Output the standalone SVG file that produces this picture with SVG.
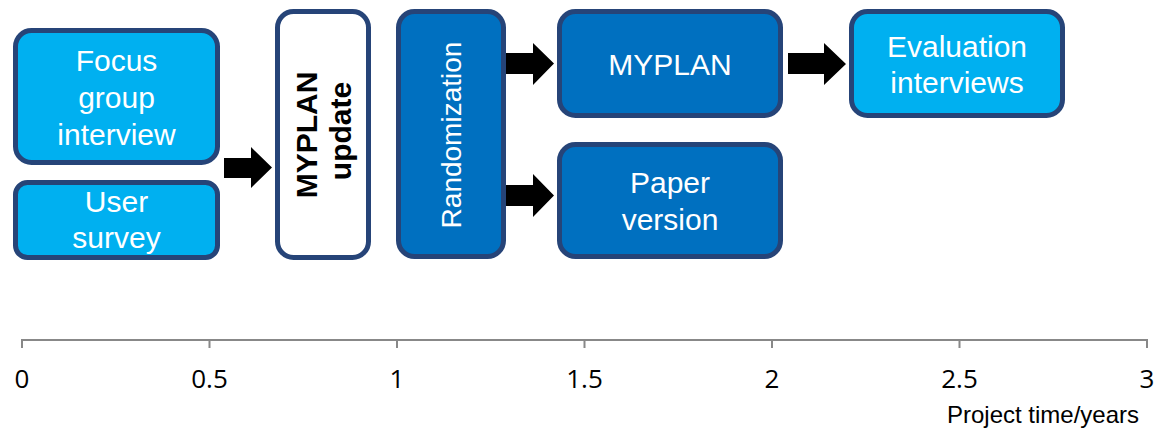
<svg xmlns="http://www.w3.org/2000/svg" width="1157" height="430" viewBox="0 0 1157 430">
  <style>
    .box { stroke: #264478; stroke-width: 5; }
    .light { fill: #00B0F0; }
    .mid { fill: #0070C0; }
    .white { fill: #FFFFFF; }
    .t { font-family: "Liberation Sans", Arial, sans-serif; font-size: 30px; fill: #FFFFFF; text-anchor: middle; }
    .tb { font-family: "Liberation Sans", Arial, sans-serif; font-size: 30px; font-weight: bold; fill: #000000; text-anchor: middle; }
    .arrow { fill: #000000; }
    .axis { stroke: #888888; stroke-width: 2; fill: none; }
    .num { font-family: "Open Sans", "Liberation Sans", sans-serif; font-size: 26px; fill: #000000; text-anchor: middle; }
    .cap { font-family: "Liberation Sans", Arial, sans-serif; font-size: 24px; fill: #000000; }
  </style>
  <rect width="1157" height="430" fill="#FFFFFF"/>

  <g id="focus-group">
    <rect class="box light" x="15.5" y="30.5" width="202" height="132" rx="16"/>
    <text class="t" x="116.5" y="71">Focus</text>
    <text class="t" x="116.5" y="108">group</text>
    <text class="t" x="116.5" y="145">interview</text>
  </g>
  <g id="user-survey">
    <rect class="box light" x="15.5" y="182.5" width="202" height="75" rx="12"/>
    <text class="t" x="116.5" y="212">User</text>
    <text class="t" x="116.5" y="248">survey</text>
  </g>
  <g id="myplan-update">
    <rect class="box white" x="277.5" y="11.5" width="91" height="246" rx="16"/>
    <text class="tb" transform="translate(317,135) rotate(-90)">MYPLAN</text>
    <text class="tb" transform="translate(351,131) rotate(-90)">update</text>
  </g>
  <g id="randomization">
    <rect class="box mid" x="398.5" y="11.5" width="105" height="245" rx="16"/>
    <text class="t" style="font-size:28px" transform="translate(461,135) rotate(-90)">Randomization</text>
  </g>
  <g id="myplan">
    <rect class="box mid" x="559.5" y="11.5" width="221" height="104" rx="16"/>
    <text class="t" x="670" y="75">MYPLAN</text>
  </g>
  <g id="paper-version">
    <rect class="box mid" x="559.5" y="144.5" width="221" height="112" rx="16"/>
    <text class="t" x="670" y="193">Paper</text>
    <text class="t" x="670" y="230">version</text>
  </g>
  <g id="evaluation">
    <rect class="box light" x="851.5" y="11.5" width="211" height="104" rx="16"/>
    <text class="t" x="957" y="57">Evaluation</text>
    <text class="t" x="957" y="93">interviews</text>
  </g>

  <g id="connectors">
    <polygon class="arrow" points="224,158 251,158 251,147 272,167.5 251,188 251,178 224,178"/>
    <polygon class="arrow" points="506,53 533,53 533,43 554,63.5 533,85 533,74 506,74"/>
    <polygon class="arrow" points="506,185 533,185 533,174 554,195.5 533,217 533,206 506,206"/>
    <polygon class="arrow" points="788,53 824,53 824,43 846,64 824,85 824,74 788,74"/>
  </g>

  <g id="axis">
    <path class="axis" d="M22,348 V340 H1147 V348 M209.5,340 V348 M397,340 V348 M584.5,340 V348 M772,340 V348 M959.5,340 V348"/>
    <text class="num" x="22" y="388">0</text>
    <text class="num" x="209.5" y="388">0.5</text>
    <text class="num" x="397" y="388">1</text>
    <text class="num" x="584.5" y="388">1.5</text>
    <text class="num" x="772" y="388">2</text>
    <text class="num" x="959.5" y="388">2.5</text>
    <text class="num" x="1147" y="388">3</text>
    <text class="cap" x="947" y="423">Project time/years</text>
  </g>
</svg>
